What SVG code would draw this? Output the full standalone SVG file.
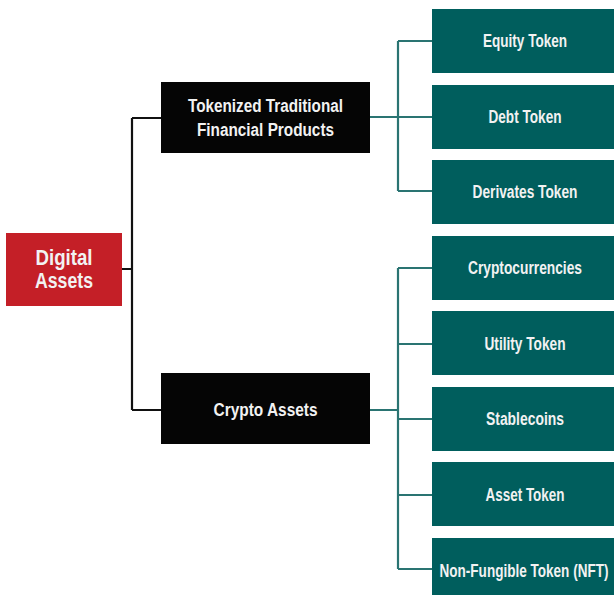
<svg xmlns="http://www.w3.org/2000/svg" width="614" height="595" viewBox="0 0 614 595">
<style>
.t{font-family:"Liberation Sans",Arial,sans-serif;font-weight:bold;fill:#f2f2f2;text-anchor:middle}
.s{font-size:17.5px}
.d{font-size:22px}
.teal{fill:#005e5d}
.blk{fill:#050505}
.red{fill:#c41f27}
.cb{stroke:#111;stroke-width:2.2;fill:none}
.ct{stroke:#2a7472;stroke-width:2.2;fill:none}
</style>
<rect width="614" height="595" fill="#fff"/>
<g id="connectors">
<path class="cb" d="M122 269H132M132 118V410M132 118H161M132 410H161"/>
<path class="ct" d="M370 117H432M398 41V191M398 41H432M398 191H432"/>
<path class="ct" d="M370 410H398M398 268V569M398 268H432M398 344H432M398 419H432M398 495H432M398 569H432"/>
</g>
<g id="digital-assets"><rect class="red" x="6" y="233" width="116" height="73"/>
<text class="t d" x="64" y="265" textLength="57" lengthAdjust="spacingAndGlyphs">Digital</text>
<text class="t d" x="64" y="288" textLength="58" lengthAdjust="spacingAndGlyphs">Assets</text></g>
<g id="tokenized"><rect class="blk" x="161" y="82" width="209" height="71"/>
<text class="t s" x="265.5" y="112" textLength="155" lengthAdjust="spacingAndGlyphs">Tokenized Traditional</text>
<text class="t s" x="265.5" y="136" textLength="137" lengthAdjust="spacingAndGlyphs">Financial Products</text></g>
<g id="crypto-assets"><rect class="blk" x="161" y="373" width="209" height="71"/>
<text class="t s" x="265.5" y="416" textLength="104" lengthAdjust="spacingAndGlyphs">Crypto Assets</text></g>
<g id="equity"><rect class="teal" x="432" y="9" width="182" height="64"/>
<text class="t s" x="525" y="47" textLength="84" lengthAdjust="spacingAndGlyphs">Equity Token</text></g>
<g id="debt"><rect class="teal" x="432" y="85" width="182" height="64"/>
<text class="t s" x="525" y="123" textLength="73" lengthAdjust="spacingAndGlyphs">Debt Token</text></g>
<g id="derivates"><rect class="teal" x="432" y="160" width="182" height="64"/>
<text class="t s" x="525" y="198" textLength="105" lengthAdjust="spacingAndGlyphs">Derivates Token</text></g>
<g id="cryptocurrencies"><rect class="teal" x="432" y="236" width="182" height="64"/>
<text class="t s" x="525" y="274" textLength="114" lengthAdjust="spacingAndGlyphs">Cryptocurrencies</text></g>
<g id="utility"><rect class="teal" x="432" y="311" width="182" height="64"/>
<text class="t s" x="525" y="350" textLength="81" lengthAdjust="spacingAndGlyphs">Utility Token</text></g>
<g id="stablecoins"><rect class="teal" x="432" y="387" width="182" height="64"/>
<text class="t s" x="525" y="425" textLength="78" lengthAdjust="spacingAndGlyphs">Stablecoins</text></g>
<g id="asset-token"><rect class="teal" x="432" y="462" width="182" height="64"/>
<text class="t s" x="525" y="501" textLength="79" lengthAdjust="spacingAndGlyphs">Asset Token</text></g>
<g id="nft"><rect class="teal" x="432" y="538" width="182" height="57"/>
<text class="t s" x="524" y="577" textLength="169" lengthAdjust="spacingAndGlyphs">Non-Fungible Token (NFT)</text></g>
</svg>
